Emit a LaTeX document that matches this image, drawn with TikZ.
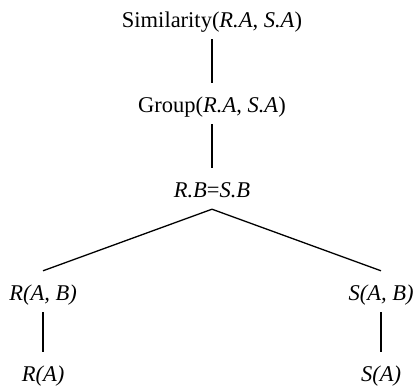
\documentclass[tikz,border=0pt]{standalone}
\usepackage{fontspec}
\setmainfont{Liberation Serif}
\usepackage{tikz}
\usetikzlibrary{positioning}

\begin{document}
\begin{tikzpicture}[
  x=1pt, y=-1pt,
  op/.style={inner sep=0pt, anchor=base, text height=29pt, text depth=12pt,
             font=\fontsize{22.5}{27}\selectfont},
  edge/.style={line width=1.3pt, color=black}
]
  \useasboundingbox (0,0) rectangle (415,386);

  %% -- top chain --
  \node[op] (sim) at (212,27) {Similarity(\textit{R.A}, \textit{S.A})};
  \node[op, below=85pt of sim.base, anchor=base] (grp) {Group(\textit{R.A}, \textit{S.A})};
  \node[op, below=85pt of grp.base, anchor=base] (join) {\textit{R.B}=\textit{S.B}};

  %% -- the two inputs of the join --
  \node[op, below left=103pt and 169pt of join.base, anchor=base]  (rab) {\textit{R(A, B)}};
  \node[op, below right=103pt and 169pt of join.base, anchor=base] (sab) {\textit{S(A, B)}};
  \node[op, below=81pt of rab.base, anchor=base] (ra) {\textit{R(A)}};
  \node[op, below=81pt of sab.base, anchor=base] (sa) {\textit{S(A)}};

  %% -- edges --
  \draw[edge] (sim)  -- (grp);
  \draw[edge] (grp)  -- (join);
  \draw[edge] (join.south) -- (rab.north);
  \draw[edge] (join.south) -- (sab.north);
  \draw[edge] (rab)  -- (ra);
  \draw[edge] (sab)  -- (sa);
\end{tikzpicture}
\end{document}
